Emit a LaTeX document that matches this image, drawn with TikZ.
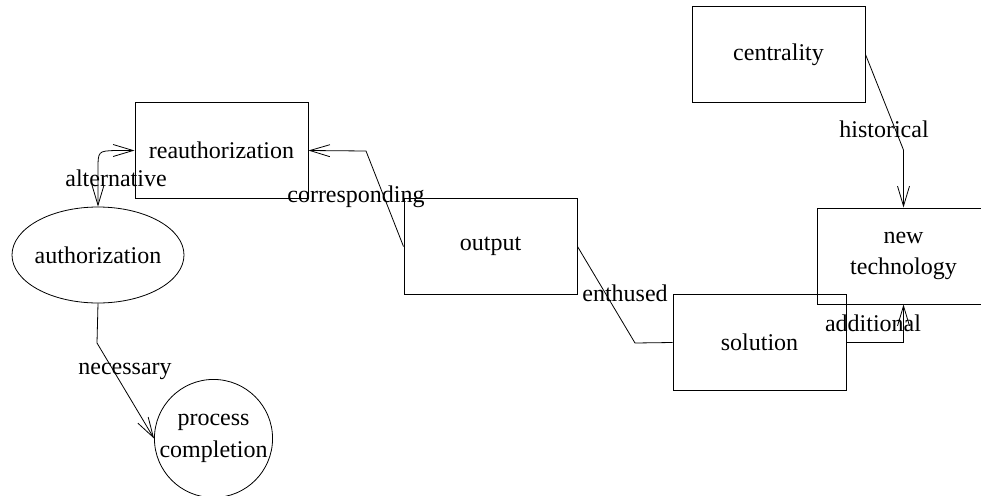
\documentclass[tikz,border=0pt]{standalone}
\usepackage{fontspec}
\setmainfont{Liberation Serif}
\usetikzlibrary{arrows.meta,shapes.geometric}
\begin{document}
\begin{tikzpicture}[x=1pt,y=-1pt,
  every node/.style={font=\fontsize{24}{31.5}\selectfont},
  box/.style={draw,rectangle,minimum width=173pt,minimum height=96pt,inner sep=0pt,align=center,line width=1pt},
  ell/.style={draw,ellipse,minimum width=172pt,minimum height=96pt,inner sep=0pt,align=center,line width=0.8pt},
  circ/.style={draw,circle,minimum size=115pt,inner sep=0pt,align=center,line width=0.8pt},
  lbl/.style={inner sep=0pt},
  con/.style={line width=0.8pt},
  arr/.style={con,-{Straight Barb[length=20pt,width=12pt,line width=0.8pt]}},
  barr/.style={con,{Straight Barb[length=20pt,width=12pt,line width=0.8pt]}-{Straight Barb[length=20pt,width=12pt,line width=0.8pt]}}]
\useasboundingbox (0,0) rectangle (981,495);
\node[box] (reauth) at (221.5,150.5) {reauthorization};
\node[ell] (auth) at (98,255) {\makebox[0pt]{authorization}};
\node[circ] (proc) at (213.5,438.5) {process\\completion};
\node[box] (output) at (490.5,246.5) {output};
\node[box] (solution) at (759.5,342.5) {solution};
\node[box] (newtech) at (903.5,256) {new\\technology};
\node[box] (central) at (778.5,54.5) {centrality};
% bend points
\coordinate (c1) at (366,151);
\coordinate (e1) at (635,343);
\coordinate (a1) at (903.5,342.5);
\coordinate (h1) at (903.5,150);
\coordinate (n1) at (97,343);
% connectors
\draw[barr] (auth.north) -- (98,170) .. controls (98,151) .. (116,150.5) -- (reauth.west);
\draw[arr] (output.west) -- (c1) -- (reauth.east);
\draw[con] (output.east) -- (e1) -- (solution.west);
\draw[arr] (solution.east) -- (a1) -- (newtech.south);
\draw[arr] (central.east) -- (h1) -- (newtech.north);
\draw[arr] (auth.south) -- (n1) -- (proc.west);
% labels
\node[lbl] (lalt) at (116,178) {alternative};
\node[lbl] (lcor) at (356,197) {corresponding};
\node[lbl] (lent) at (625,293) {enthused};
\node[lbl] (ladd) at (873,323) {additional};
\node[lbl] (lhis) at (884,129) {historical};
\node[lbl] (lnec) at (125,371) {necessary};
\end{tikzpicture}
\end{document}
